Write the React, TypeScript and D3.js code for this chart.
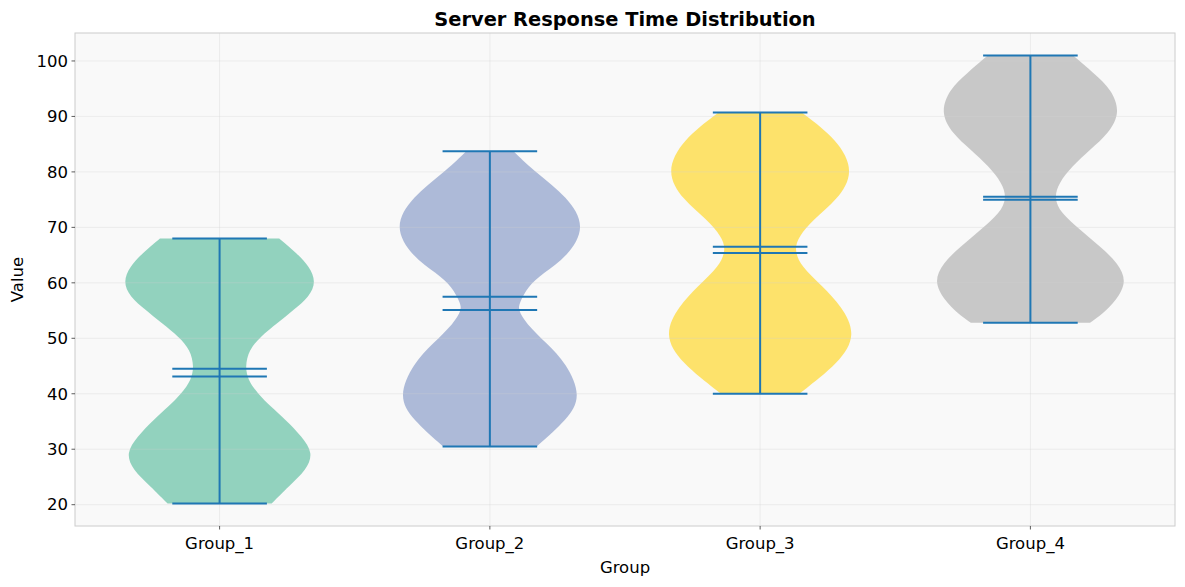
import React from "react";
import * as d3 from "d3";

// groups and their summary stats
const groups = ["Group_1", "Group_2", "Group_3", "Group_4"];
const groupColors = ["#66c2a5", "#8da0cb", "#ffd92f", "#b3b3b3"];
const minValues = [20.2, 30.5, 40.0, 52.8];
const maxValues = [68.0, 83.7, 90.7, 101.0];
const meanValues = [44.5, 57.5, 66.5, 75.5];
const medianValues = [43.1, 55.1, 65.4, 75.0];

// density outline: value -> relative half width (1 = widest)
const densityValues1 = [20.2, 23.3, 26.3, 29.3, 32.3, 35.3, 37.7, 40.1, 42.5, 44.9, 47.9, 50.3, 52.7, 55.1, 57.5, 60.2, 62.9, 65.3, 68];
const densityWidths1 = [0.55, 0.73, 0.92, 0.99, 0.87, 0.7, 0.54, 0.4, 0.3, 0.27, 0.31, 0.43, 0.61, 0.78, 0.95, 1.02, 0.95, 0.82, 0.63];
const densityValues2 = [30.6, 35.4, 39.5, 45.5, 49.1, 52.7, 55.1, 56.3, 59.3, 61.7, 64.7, 70.1, 75.5, 79.8, 83.7];
const densityWidths2 = [0.5, 0.82, 0.97, 0.81, 0.6, 0.38, 0.3, 0.31, 0.4, 0.56, 0.82, 1.02, 0.82, 0.49, 0.25];
const densityValues3 = [40.1, 45.6, 50.7, 55.8, 59.4, 63.0, 66.0, 68.4, 71.4, 75.0, 80.0, 85.8, 90.7];
const densityWidths3 = [0.42, 0.84, 1.02, 0.86, 0.66, 0.43, 0.36, 0.41, 0.56, 0.82, 1.0, 0.82, 0.44];
const densityValues4 = [52.8, 54.5, 56.9, 60.2, 63.5, 66.5, 69.5, 72.6, 75.3, 78.0, 81.0, 84.0, 87.0, 90.7, 94.8, 97.8, 101];
const densityWidths4 = [0.63, 0.77, 0.91, 1.02, 0.93, 0.74, 0.53, 0.32, 0.25, 0.3, 0.44, 0.63, 0.83, 0.95, 0.86, 0.67, 0.45];

const densityValues = [densityValues1, densityValues2, densityValues3, densityValues4];
const densityWidths = [densityWidths1, densityWidths2, densityWidths3, densityWidths4];

const yTicks = [20, 30, 40, 50, 60, 70, 80, 90, 100];

const W = 1185;
const H = 587;
const left = 75;
const right = 1175;
const top = 33;
const bottom = 526;
const violinWidth = 0.7;

const font = "DejaVu Sans, sans-serif";
const lineColor = "#1f77b4";

export default function App() {
  const x = d3.scaleLinear().domain([0.465, 4.535]).range([left, right]);
  const y = d3.scaleLinear().domain([16.16, 105.04]).range([bottom, top]);
  const unit = x(1) - x(0);
  const halfMax = (violinWidth / 2) * unit;
  const capHalf = (violinWidth / 4) * unit;

  return (
    <svg
      width={W}
      height={H}
      style={{ position: "absolute", left: 0, top: 0, background: "#fff" }}
      fontFamily={font}
    >
      <rect x={left} y={top} width={right - left} height={bottom - top} fill="#f9f9f9" />

      {/* violins */}
      {groups.map((g, i) => {
        const cx = x(i + 1);
        const pts = densityValues[i].map((v, j) => ({ v, w: densityWidths[i][j] }));
        const area = d3
          .area<{ v: number; w: number }>()
          .y((d) => y(d.v))
          .x0((d) => cx - d.w * halfMax)
          .x1((d) => cx + d.w * halfMax)
          .curve(d3.curveBasis);
        return (
          <path key={g} d={area(pts) ?? ""} fill={groupColors[i]} fillOpacity={0.7} stroke="none" />
        );
      })}

      {/* grid */}
      <g stroke="#d0d0d0" strokeOpacity={0.4} strokeWidth={0.8}>
        {yTicks.map((t) => (
          <line key={"gy" + t} x1={left} x2={right} y1={y(t)} y2={y(t)} />
        ))}
        {groups.map((g, i) => (
          <line key={"gx" + g} x1={x(i + 1)} x2={x(i + 1)} y1={top} y2={bottom} />
        ))}
      </g>

      {/* extrema, mean, median lines */}
      {groups.map((g, i) => {
        const cx = x(i + 1);
        const marks = [minValues[i], maxValues[i], meanValues[i], medianValues[i]];
        return (
          <g key={"l" + g} stroke={lineColor} strokeWidth={2}>
            <line x1={cx} x2={cx} y1={y(minValues[i])} y2={y(maxValues[i])} />
            {marks.map((m, k) => (
              <line key={k} x1={cx - capHalf} x2={cx + capHalf} y1={y(m)} y2={y(m)} />
            ))}
          </g>
        );
      })}

      {/* frame */}
      <rect
        x={left}
        y={top}
        width={right - left}
        height={bottom - top}
        fill="none"
        stroke="#cccccc"
        strokeWidth={1}
      />

      {/* y axis */}
      {yTicks.map((t) => (
        <g key={"yt" + t}>
          <line x1={left - 3.5} x2={left} y1={y(t)} y2={y(t)} stroke="#333" strokeWidth={0.8} />
          <text x={left - 7} y={y(t)} dy="0.35em" textAnchor="end" fontSize={16.5} fill="#000">
            {t}
          </text>
        </g>
      ))}

      {/* x axis */}
      {groups.map((g, i) => (
        <g key={"xt" + g}>
          <line x1={x(i + 1)} x2={x(i + 1)} y1={bottom} y2={bottom + 3.5} stroke="#333" strokeWidth={0.8} />
          <text x={x(i + 1)} y={549} textAnchor="middle" fontSize={16.5} fill="#000">
            {g}
          </text>
        </g>
      ))}

      <text x={(left + right) / 2} y={572.5} textAnchor="middle" fontSize={16.5} fill="#000">
        Group
      </text>
      <text
        transform={`translate(23, ${(top + bottom) / 2}) rotate(-90)`}
        textAnchor="middle"
        fontSize={16.5}
        fill="#000"
      >
        Value
      </text>
      <text
        x={(left + right) / 2}
        y={26}
        textAnchor="middle"
        fontSize={19.4}
        fontWeight="bold"
        fill="#000"
      >
        Server Response Time Distribution
      </text>
    </svg>
  );
}
